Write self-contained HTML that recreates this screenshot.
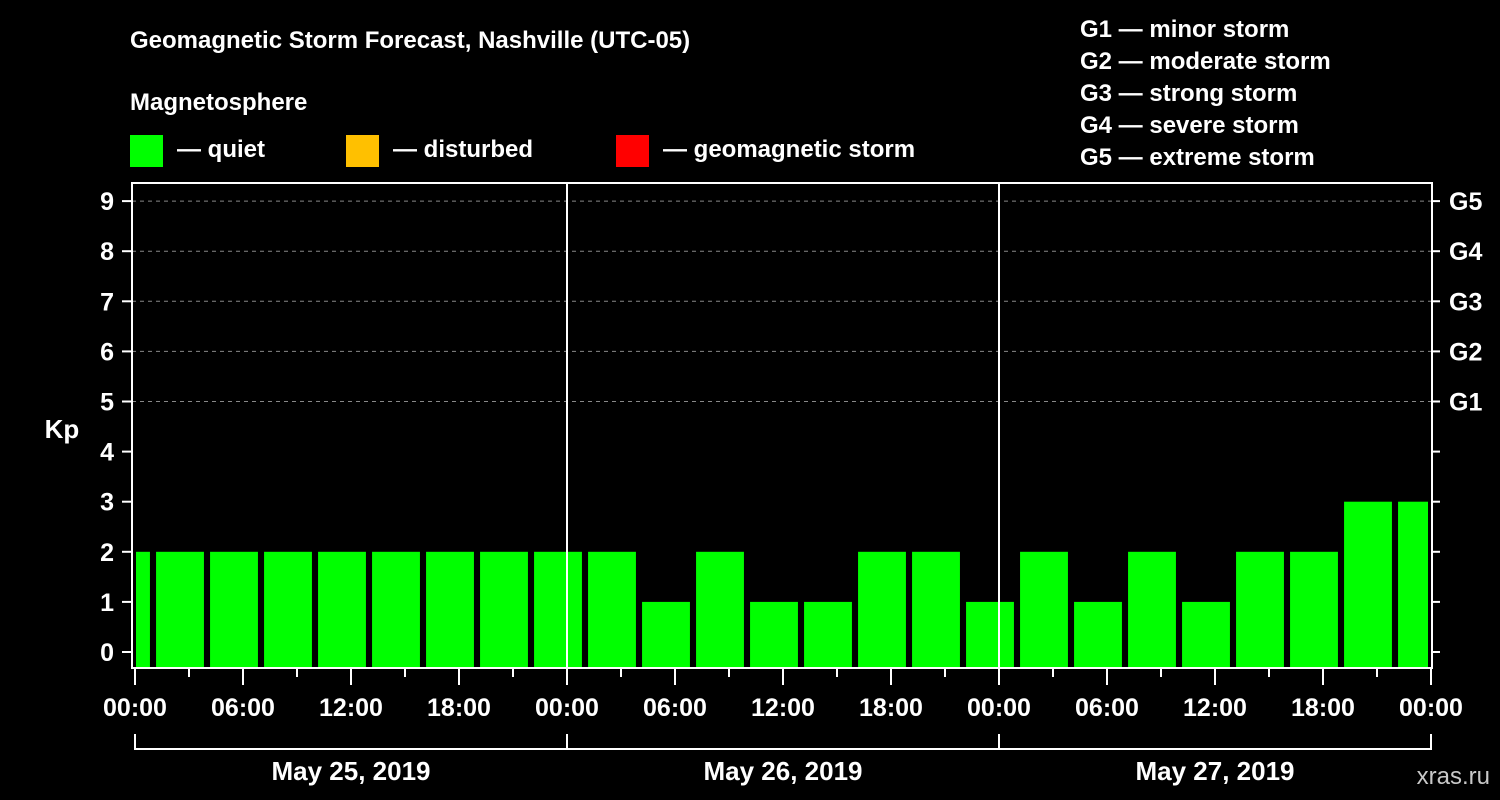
<!DOCTYPE html>
<html><head><meta charset="utf-8">
<style>
body{margin:0;background:#000;width:1500px;height:800px;overflow:hidden}
svg{display:block}
text{font-family:"Liberation Sans",sans-serif;font-weight:bold;fill:#fff}
</style></head>
<body>
<svg id="chart" width="1500" height="800">
<rect width="1500" height="800" fill="#000"/>
<text x="130" y="48" font-size="24">Geomagnetic Storm Forecast, Nashville (UTC-05)</text>
<text x="130" y="110" font-size="24">Magnetosphere</text>
<g><rect x="130" y="135" width="33" height="32" fill="#00ff00"/><text x="177" y="157" font-size="24">— quiet</text></g>
<g><rect x="346" y="135" width="33" height="32" fill="#ffc000"/><text x="393" y="157" font-size="24">— disturbed</text></g>
<g><rect x="616" y="135" width="33" height="32" fill="#ff0000"/><text x="663" y="157" font-size="24">— geomagnetic storm</text></g>
<g font-size="24">
<text x="1080" y="37">G1 — minor storm</text>
<text x="1080" y="69">G2 — moderate storm</text>
<text x="1080" y="101">G3 — strong storm</text>
<text x="1080" y="133">G4 — severe storm</text>
<text x="1080" y="165">G5 — extreme storm</text>
</g>
<g id="grid"></g><g id="bars"></g><g id="axes"></g>
<text x="62" y="438" font-size="26" text-anchor="middle">Kp</text>
<text x="1490" y="784" font-size="24" text-anchor="end" fill="#c8c8c8" style="fill:#c8c8c8;font-weight:normal">xras.ru</text>
</svg>
<script>
const kpValues=[2,2,2,2,2,2,2,2,2,2,1,2,1,1,2,2,1,2,1,2,1,2,2,3,3];
const barHours=[-0.5,2.5,5.5,8.5,11.5,14.5,17.5,20.5,23.5,26.5,29.5,32.5,35.5,38.5,41.5,44.5,47.5,50.5,53.5,56.5,59.5,62.5,65.5,68.5,71.5];
const xTickLabels=["00:00","06:00","12:00","18:00","00:00","06:00","12:00","18:00","00:00","06:00","12:00","18:00","00:00"];
const yTickLabels=["0","1","2","3","4","5","6","7","8","9"];
const gLabels=["G1","G2","G3","G4","G5"];
const dateLabels=["May 25, 2019","May 26, 2019","May 27, 2019"];
const NS="http://www.w3.org/2000/svg";
const L=132,R=1432,T=183,B=668;
const x=h=>135+h*(1431-135)/72;
const y=v=>652-v*50.1;
function mk(tag,attrs,parent,txt){const e=document.createElementNS(NS,tag);for(const k in attrs)e.setAttribute(k,attrs[k]);if(txt!=null)e.textContent=txt;parent.appendChild(e);return e;}
const grid=document.getElementById('grid'),bars=document.getElementById('bars'),axes=document.getElementById('axes');
for(let v=5;v<=9;v++){const l=mk('line',{x1:L,x2:R,y1:y(v),y2:y(v),stroke:'#888','stroke-width':1,'stroke-dasharray':'4,4'},grid);

}
kpValues.forEach((v,i)=>{let x0=Math.max(x(barHours[i]-1.33),L+4),x1=Math.min(x(barHours[i]+1.33),R-4);
const c=v>=5?'#ff0000':(v>=4?'#ffc000':'#00ff00');
const r=mk('rect',{x:x0,y:y(v),width:x1-x0,height:B-y(v),fill:c},bars);

});
const frame=mk('path',{d:`M${L},${T}H${R}V${B}H${L}Z`,fill:'none',stroke:'#fff','stroke-width':2},axes);


[24,48].forEach(h=>{const l=mk('line',{x1:x(h),x2:x(h),y1:T,y2:B,stroke:'#fff','stroke-width':2},axes);

});
yTickLabels.forEach((t,i)=>{mk('line',{x1:L-10,x2:L,y1:y(i),y2:y(i),stroke:'#fff','stroke-width':2},axes);
mk('line',{x1:R,x2:R+8,y1:y(i),y2:y(i),stroke:'#fff','stroke-width':2},axes);
const tx=mk('text',{x:L-18,y:y(i)+9,'font-size':25,'text-anchor':'end'},axes,t);

});
gLabels.forEach((g,i)=>{const tx=mk('text',{x:1449,y:y(i+5)+9,'font-size':25},axes,g);

});
for(let h=0;h<=72;h+=3){mk('line',{x1:x(h),x2:x(h),y1:B,y2:B+(h%6===0?17:9),stroke:'#fff','stroke-width':2},axes);}
xTickLabels.forEach((t,i)=>{const tx=mk('text',{x:x(i*6),y:716,'font-size':25,'text-anchor':'middle'},axes,t);

});
const br=mk('path',{d:`M${x(0)},734V749H${x(72)}V734M${x(24)},734V749M${x(48)},734V749`,fill:'none',stroke:'#fff','stroke-width':2},axes);


dateLabels.forEach((d,i)=>{const tx=mk('text',{x:x(i*24+12),y:780,'font-size':26,'text-anchor':'middle'},axes,d);

});
</script>
</body></html>
